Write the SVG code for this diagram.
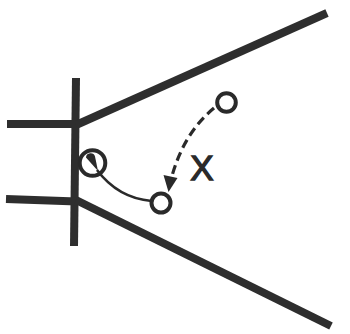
<svg xmlns="http://www.w3.org/2000/svg" width="350" height="334" viewBox="0 0 350 334">
<style>
.thick{stroke:#2e2e2e;stroke-width:8;fill:none;stroke-linecap:butt}
.ring{stroke:#2a2a2a;stroke-width:4;fill:none}
.thin{stroke:#2a2a2a;stroke-width:2.6;fill:none}
.dash{stroke:#2a2a2a;stroke-width:3.2;fill:none;stroke-dasharray:9 5}
.head{fill:#2a2a2a}
.lbl{font-family:"Liberation Sans",Arial,sans-serif;font-size:35px;fill:#2a2a2a;stroke:#2a2a2a;stroke-width:1.3}
</style>
<rect width="350" height="334" fill="#ffffff"/>
<g id="rink">
<line class="thick" x1="76" y1="78" x2="74" y2="246"/>
<line class="thick" x1="7" y1="124" x2="77" y2="124"/>
<line class="thick" x1="6" y1="199" x2="77" y2="201.5"/>
<line class="thick" x1="76" y1="125" x2="327" y2="13"/>
<line class="thick" x1="76" y1="200" x2="331" y2="326"/>
</g>
<g id="goalie">
<circle class="ring" cx="92.5" cy="163" r="12.8" stroke-width="3.4"/>
<path class="head" d="M86,157.5 A4.6,4.6 0 0 1 95,156.5 L98,171 Z"/>
</g>
<g id="player-top">
<circle class="ring" cx="226.5" cy="102.5" r="9.3"/>
</g>
<g id="player-bottom">
<circle class="ring" cx="161" cy="203" r="9.5"/>
</g>
<g id="defender">
<text class="lbl" x="202" y="180" text-anchor="middle">X</text>
</g>
<g id="connectors">
<path class="thin" d="M97,170 Q118,198 151.5,201"/>
<path class="dash" d="M214,108 Q184,133 172,176"/>
<path class="head" d="M163.5,175 L177.5,178 L168.5,192 Z"/>
</g>
</svg>
